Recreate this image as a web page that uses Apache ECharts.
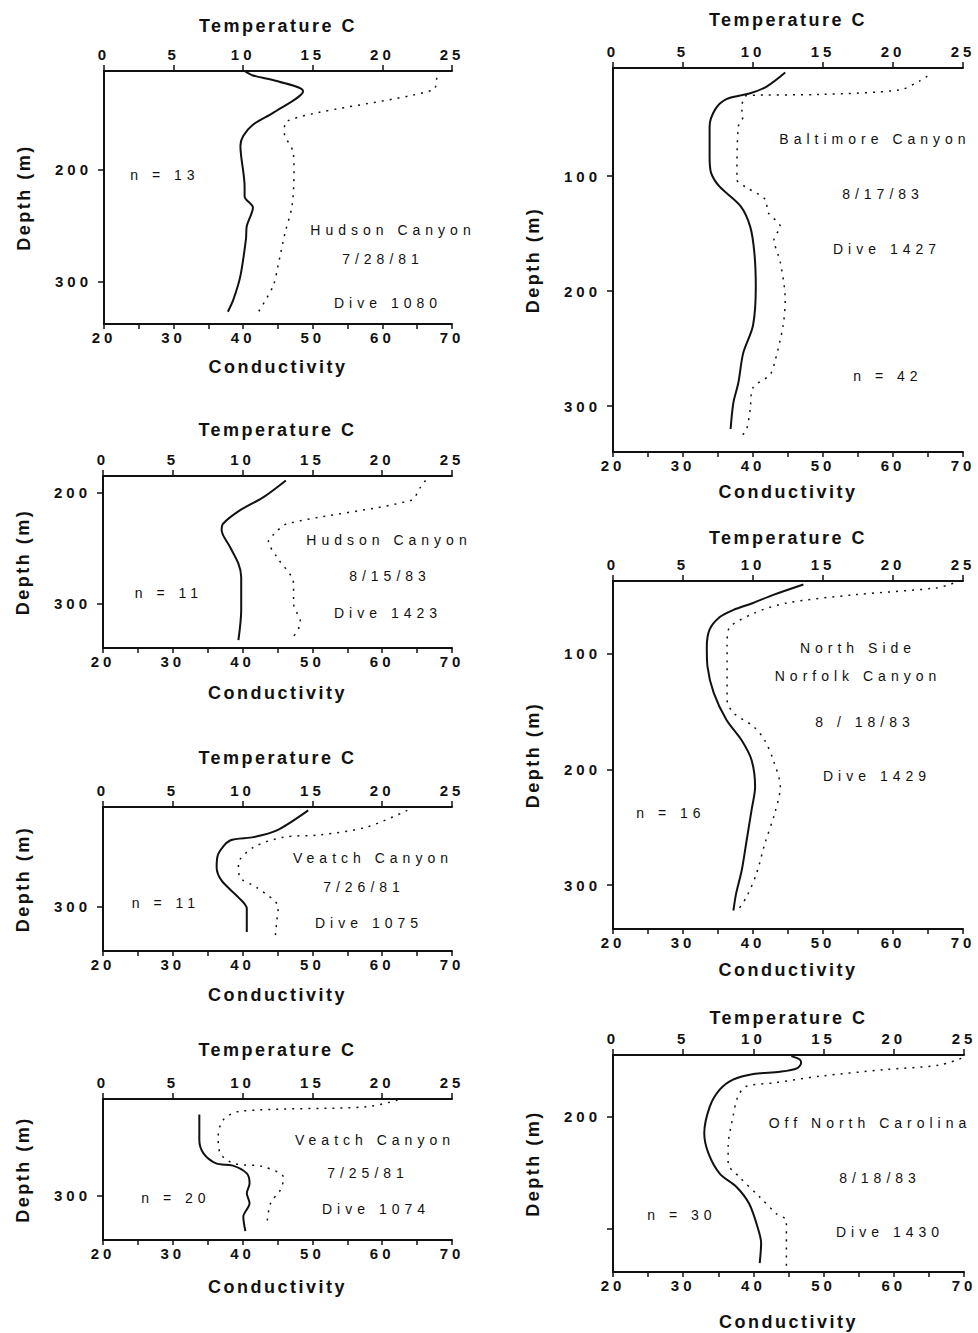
<!DOCTYPE html>
<html>
<head>
<meta charset="utf-8">
<script src="https://cdn.jsdelivr.net/npm/echarts@6/dist/echarts.min.js"></script>
<style>
html, body { margin: 0; padding: 0; background: #fff; }
#chart { width: 978px; height: 1333px; }
#chart text { letter-spacing: 4px; }
#chart text[style*="18px"] { letter-spacing: 2.5px; }
#chart text[style*="14px"] { letter-spacing: 5px; }
</style>
</head>
<body>
<div id="chart"></div>
<script>
// tick labels
const tempTicks = [0, 5, 10, 15, 20, 25];
const condLabels = [20, 30, 40, 50, 60, 70];

// Hudson Canyon 7/28/81, Dive 1080
const hud81Depth = [112, 116, 121, 130, 149, 160, 170, 179, 215, 224, 234, 251, 262, 295, 316, 327];
const hud81Temp = [10.1, 10.7, 12.4, 14.3, 12.2, 10.7, 10.0, 9.8, 10.1, 10.1, 10.7, 10.25, 10.2, 9.8, 9.3, 8.9];
const hud81CondDepth = [118, 129, 157, 167, 185, 203, 233, 257, 286, 304, 327];
const hud81Cond = [67.8, 67.3, 46.2, 45.9, 47.2, 47.3, 47.0, 46.0, 45.0, 44.3, 42.2];

// Hudson Canyon 8/15/83, Dive 1423
const hud83Depth = [189, 204, 216, 228, 234, 249, 264, 276, 306, 333];
const hud83Temp = [13.1, 11.5, 9.8, 8.6, 8.5, 9.1, 9.7, 9.9, 9.9, 9.7];
const hud83CondDepth = [189, 195, 207, 228, 238, 244, 258, 282, 300, 317, 333];
const hud83Cond = [66.2, 65.5, 64.1, 46.4, 44.4, 43.7, 44.9, 47.3, 47.3, 48.3, 46.9];

// Veatch Canyon 7/26/81, Dive 1075
const vea75Depth = [214, 232, 238, 241, 253, 265, 277, 292, 302, 323];
const vea75Temp = [14.7, 12.45, 10.8, 9.1, 8.26, 8.14, 8.5, 9.7, 10.3, 10.3];
const vea75CondDepth = [214, 229, 236, 238, 247, 262, 274, 283, 301, 313, 326];
const vea75Cond = [63.6, 57.8, 51.1, 45.9, 41.6, 39.4, 39.6, 42.0, 45.1, 44.9, 44.7];

// Veatch Canyon 7/25/81, Dive 1074
const vea74Depth = [227, 250, 262, 271, 273, 280, 289, 298, 307, 319, 332];
const vea74Temp = [6.9, 6.9, 7.2, 8.1, 9.3, 10.3, 10.5, 10.3, 10.5, 10.05, 10.2];
const vea74CondDepth = [214, 220, 224, 232, 247, 262, 271, 274, 284, 295, 307, 325];
const vea74Cond = [62.2, 57.8, 39.6, 37.2, 36.5, 36.8, 38.7, 43.0, 45.9, 45.4, 44.0, 43.5];

// Baltimore Canyon 8/17/83, Dive 1427
const balDepth = [10, 22, 28, 33, 42, 57, 83, 97, 109, 126, 144, 167, 196, 230, 254, 280, 297, 320];
const balTemp = [12.3, 11.0, 9.8, 8.1, 7.3, 6.9, 6.9, 7.0, 7.6, 9.1, 9.8, 10.1, 10.2, 10.0, 9.3, 8.95, 8.6, 8.4];
const balCondDepth = [13, 17, 25, 29, 30, 42, 48, 57, 103, 110, 120, 132, 144, 155, 175, 207, 230, 262, 273, 284, 303, 320, 326];
const balCond = [64.9, 63.9, 61.0, 49.6, 39.1, 38.4, 38.6, 37.9, 37.7, 39.1, 41.7, 42.2, 43.9, 43.0, 43.9, 44.6, 44.3, 43.1, 42.4, 40.0, 39.6, 39.1, 38.4];

// North Side Norfolk Canyon 8/18/83, Dive 1429
const norDepth = [40, 49, 56, 62, 68, 79, 94, 111, 134, 157, 175, 192, 215, 235, 261, 287, 307, 322];
const norTemp = [13.6, 11.45, 10.0, 8.6, 7.65, 6.9, 6.7, 6.75, 7.2, 8.1, 9.2, 9.9, 10.15, 9.9, 9.55, 9.2, 8.8, 8.6];
const norCondDepth = [39, 43, 49, 56, 65, 79, 94, 140, 151, 163, 175, 192, 215, 238, 264, 290, 310, 323];
const norCond = [68.6, 66.2, 54.3, 44.8, 40.1, 36.5, 36.3, 36.3, 37.2, 40.1, 41.7, 42.9, 43.9, 43.1, 41.7, 40.5, 39.1, 37.7];

// Off North Carolina 8/18/83, Dive 1430
const ncDepth = [146, 149, 152, 157, 160, 162, 167, 176, 191, 215, 233, 251, 263, 278, 299, 313, 331];
const ncTemp = [12.7, 13.3, 13.4, 13.1, 11.9, 10.0, 8.55, 7.6, 6.9, 6.5, 6.8, 7.6, 8.8, 9.7, 10.3, 10.55, 10.45];
const ncCondDepth = [148, 154, 158, 164, 170, 173, 182, 200, 227, 242, 254, 272, 287, 293, 334];
const ncCond = [69.6, 66.5, 58.9, 49.4, 42.8, 39.0, 37.8, 37.1, 36.4, 36.4, 38.0, 40.9, 43.3, 44.7, 44.7];

const panels = [
  { temp: hud81Temp, tempDepth: hud81Depth, cond: hud81Cond, condDepth: hud81CondDepth, range: [112, 338], ticks: [200, 300], labels: [200, 300],
    notes: ['n = 13', 'Hudson Canyon', '7/28/81', 'Dive 1080'] },
  { temp: hud83Temp, tempDepth: hud83Depth, cond: hud83Cond, condDepth: hud83CondDepth, range: [185, 340], ticks: [200, 300], labels: [200, 300],
    notes: ['n = 11', 'Hudson Canyon', '8/15/83', 'Dive 1423'] },
  { temp: vea75Temp, tempDepth: vea75Depth, cond: vea75Cond, condDepth: vea75CondDepth, range: [211, 340], ticks: [300], labels: [300],
    notes: ['n = 11', 'Veatch Canyon', '7/26/81', 'Dive 1075'] },
  { temp: vea74Temp, tempDepth: vea74Depth, cond: vea74Cond, condDepth: vea74CondDepth, range: [213, 340], ticks: [300], labels: [300],
    notes: ['n = 20', 'Veatch Canyon', '7/25/81', 'Dive 1074'] },
  { temp: balTemp, tempDepth: balDepth, cond: balCond, condDepth: balCondDepth, range: [6, 340], ticks: [100, 200, 300], labels: [100, 200, 300],
    notes: ['Baltimore Canyon', '8/17/83', 'Dive 1427', 'n = 42'] },
  { temp: norTemp, tempDepth: norDepth, cond: norCond, condDepth: norCondDepth, range: [37, 338], ticks: [100, 200, 300], labels: [100, 200, 300],
    notes: ['North Side', 'Norfolk Canyon', '8 / 18/83', 'Dive 1429', 'n = 16'] },
  { temp: ncTemp, tempDepth: ncDepth, cond: ncCond, condDepth: ncCondDepth, range: [145, 339], ticks: [200, 300], labels: [200],
    notes: ['Off North Carolina', '8/18/83', 'Dive 1430', 'n = 30'] }
];

// box of each panel and gaps of the axis names
const boxes = [
  { left: 104, top: 71, width: 348, height: 253, tGap: 36, cGap: 34 },
  { left: 103, top: 476, width: 349, height: 172, tGap: 37, cGap: 36 },
  { left: 103, top: 807, width: 349, height: 144, tGap: 40, cGap: 35 },
  { left: 103, top: 1099, width: 349, height: 141, tGap: 40, cGap: 38 },
  { left: 613, top: 68, width: 350, height: 384, tGap: 39, cGap: 31 },
  { left: 613, top: 581, width: 350, height: 348, tGap: 34, cGap: 32 },
  { left: 613, top: 1055, width: 351, height: 217, tGap: 28, cGap: 41 }
];
// centres of the notes written inside each panel
const notePos = [
  [[165, 175], [393, 230], [383, 259], [388, 303]],
  [[169, 593], [389, 540], [390, 576], [388, 613]],
  [[166, 903], [373, 858], [364, 887], [369, 923]],
  [[176, 1198], [375, 1140], [368, 1173], [376, 1209]],
  [[875, 139], [883, 194], [887, 249], [888, 376]],
  [[858, 648], [858, 676], [865, 722], [877, 776], [671, 813]],
  [[870, 1123], [880, 1178], [890, 1232], [682, 1215]]
];

const ink = '#111';
const fam = '"Liberation Sans", Arial, Helvetica, sans-serif';
const tickFont = { color: ink, fontFamily: fam, fontWeight: 'bold', fontSize: 15 };
const nameFont = { color: ink, fontFamily: fam, fontWeight: 'bold', fontSize: 18 };

const option = { animation: false, grid: [], xAxis: [], yAxis: [], series: [], graphic: [] };

panels.forEach((p, i) => {
  const b = boxes[i];
  option.grid.push({ left: b.left, top: b.top, width: b.width, height: b.height, show: false });
  option.xAxis.push({
    gridIndex: i, type: 'value', position: 'top', min: 0, max: 25, interval: 5,
    name: 'Temperature C', nameLocation: 'middle', nameGap: b.tGap, nameTextStyle: nameFont,
    axisLine: { onZero: false, lineStyle: { color: ink, width: 2 } },
    axisTick: { length: 6, lineStyle: { color: ink, width: 1.5 } },
    axisLabel: Object.assign({ margin: 9, customValues: tempTicks }, tickFont),
    splitLine: { show: false }
  });
  option.xAxis.push({
    gridIndex: i, type: 'value', position: 'bottom', min: 20, max: 70, interval: 5,
    name: 'Conductivity', nameLocation: 'middle', nameGap: b.cGap, nameTextStyle: nameFont,
    axisLine: { onZero: false, lineStyle: { color: ink, width: 2 } },
    axisTick: { length: 5, lineStyle: { color: ink, width: 1.5 } },
    axisLabel: Object.assign({ margin: 6, customValues: condLabels }, tickFont),
    splitLine: { show: false }
  });
  option.yAxis.push({
    gridIndex: i, type: 'value', inverse: true, min: p.range[0], max: p.range[1],
    name: 'Depth (m)', nameLocation: 'middle', nameGap: 71, nameTextStyle: nameFont,
    axisLine: { onZero: false, lineStyle: { color: ink, width: 2 } },
    axisTick: { length: 6, customValues: p.ticks, lineStyle: { color: ink, width: 1.5 } },
    axisLabel: Object.assign({ margin: 12, customValues: p.labels }, tickFont),
    splitLine: { show: false }
  });
  option.series.push({
    type: 'line', xAxisIndex: 2 * i, yAxisIndex: i, showSymbol: false, smooth: 0.3,
    data: p.temp.map((t, k) => [t, p.tempDepth[k]]),
    lineStyle: { color: ink, width: 2 }
  });
  option.series.push({
    type: 'line', xAxisIndex: 2 * i + 1, yAxisIndex: i, showSymbol: false, smooth: 0.3,
    data: p.cond.map((c, k) => [c, p.condDepth[k]]),
    lineStyle: { color: ink, width: 1.5, type: [2, 6] }
  });
  p.notes.forEach((txt, k) => {
    option.graphic.push({
      type: 'text', x: notePos[i][k][0], y: notePos[i][k][1], silent: true,
      style: { text: txt, fill: ink, font: '14px ' + fam, textAlign: 'center', textVerticalAlign: 'middle' }
    });
  });
});

const chart = echarts.init(document.getElementById('chart'), null, { renderer: 'svg' });
chart.setOption(option);
</script>
</body>
</html>
